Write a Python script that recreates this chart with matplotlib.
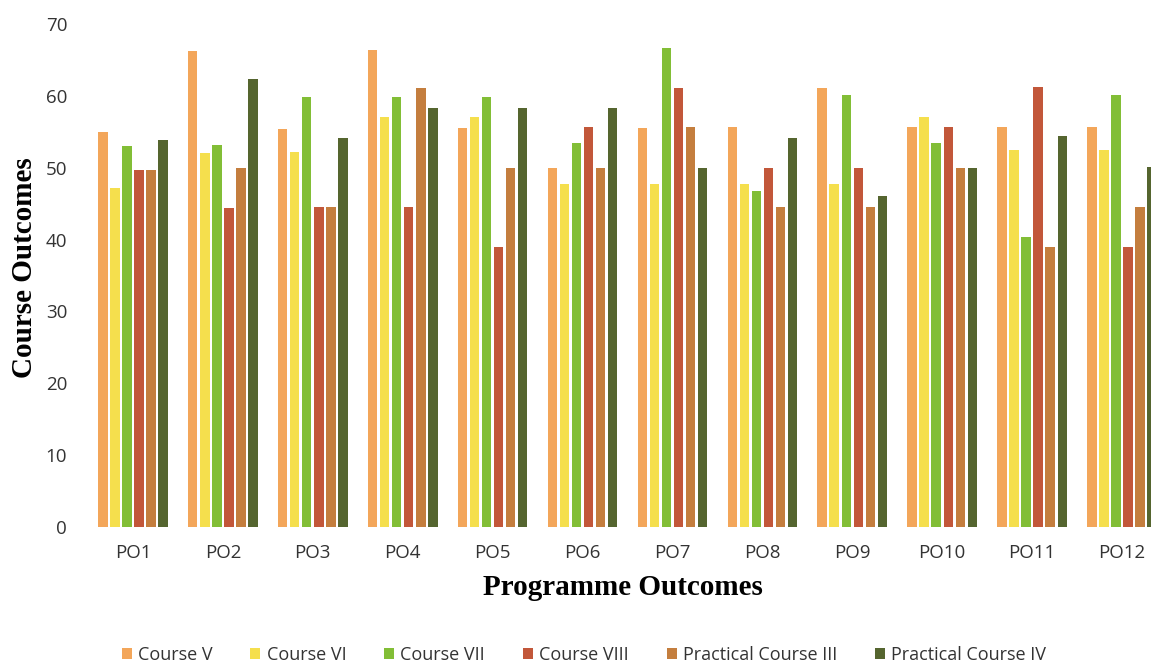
import matplotlib.pyplot as plt
import numpy as np

# programme outcomes on the x axis
outcomes = ['PO1', 'PO2', 'PO3', 'PO4', 'PO5', 'PO6',
            'PO7', 'PO8', 'PO9', 'PO10', 'PO11', 'PO12']

course_v = [55.0, 66.3, 55.4, 66.4, 55.5, 50.0, 55.5, 55.6, 61.1, 55.6, 55.6, 55.6]
course_vi = [47.2, 52.1, 52.2, 57.0, 57.0, 47.7, 47.7, 47.7, 47.8, 57.1, 52.5, 52.5]
course_vii = [53.0, 53.2, 59.9, 59.9, 59.9, 53.4, 66.7, 46.8, 60.1, 53.5, 40.3, 60.1]
course_viii = [49.7, 44.4, 44.5, 44.5, 39.0, 55.6, 61.1, 50.0, 50.0, 55.6, 61.2, 39.0]
practical_iii = [49.7, 50.0, 44.5, 61.1, 50.0, 50.0, 55.6, 44.5, 44.5, 50.0, 39.0, 44.6]
practical_iv = [53.9, 62.3, 54.1, 58.3, 58.3, 58.3, 50.0, 54.2, 46.0, 50.0, 54.4, 50.1]

series = {
    'Course V': (course_v, '#F3A65A'),
    'Course VI': (course_vi, '#F5DF4D'),
    'Course VII': (course_vii, '#82BE36'),
    'Course VIII': (course_viii, '#C2573A'),
    'Practical Course III': (practical_iii, '#C47E3E'),
    'Practical Course IV': (practical_iv, '#55652F'),
}

fig = plt.figure(figsize=(11.51, 6.65), dpi=100)
# axes run past the right edge, like the cropped original
ax = fig.add_axes([88 / 1151, 1 - 527 / 665, 1079 / 1151, 503 / 665])

x = np.arange(len(outcomes))
pitch = 0.134
width = 0.105
for i, (name, (vals, col)) in enumerate(series.items()):
    ax.bar(x + (i - 2.5) * pitch, vals, width=width, color=col, label=name)

ax.set_xlim(-0.5, len(outcomes) - 0.5)
ax.set_ylim(0, 70)
ax.set_yticks(range(0, 80, 10))
ax.set_xticks(x)
ax.set_xticklabels(outcomes)
for s in ax.spines.values():
    s.set_visible(False)
ax.tick_params(length=0, labelsize=13.5, colors='#333333')
ax.tick_params(axis='x', pad=12)
ax.tick_params(axis='y', pad=15)
for lab in ax.get_xticklabels() + ax.get_yticklabels():
    lab.set_family('Open Sans')

ax.set_xlabel('Programme Outcomes', family='Liberation Serif', weight='bold',
              fontsize=21)
ax.xaxis.set_label_coords(535 / 1079, -(574 - 527) / 503)
ax.set_ylabel('Course Outcomes', family='Liberation Serif', weight='bold',
              fontsize=21)
ax.yaxis.set_label_coords(-(88 - 38) / 1079, (527 - 268) / 503)

leg = fig.legend(loc='center', bbox_to_anchor=(584 / 1151, 1 - 655 / 665),
                 ncol=6, frameon=False, handlelength=0.55, handleheight=0.55,
                 handletextpad=0.35, columnspacing=2.1,
                 prop={'family': 'Open Sans', 'size': 13})
for t in leg.get_texts():
    t.set_color('#333333')

fig.savefig('out.png', dpi=100)
